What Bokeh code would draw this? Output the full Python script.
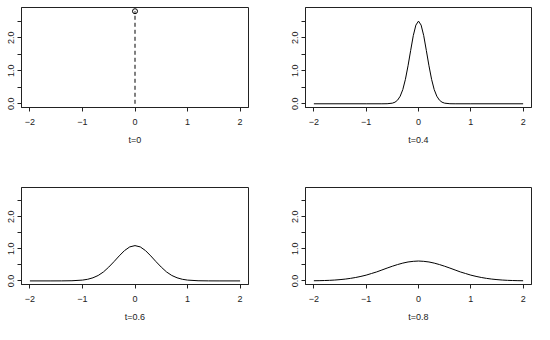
from bokeh.plotting import figure
from bokeh.layouts import column, row
from bokeh.models import Range1d, FixedTicker
from bokeh.embed import file_html
from bokeh.resources import INLINE

# ---- data ----
x_ticks = [-2, -1, 0, 1, 2]
y_ticks = [0.0, 0.5, 1.0, 1.5, 2.0, 2.5]
y_tick_labels = {0.0: "0.0", 0.5: "", 1.0: "1.0", 1.5: "", 2.0: "2.0", 2.5: ""}

# t = 0 : spike at x = 0
spike_x = [0.0]
spike_top = [2.8]

# t = 0.4
x_04 = [-2.0, -1.0, -0.7, -0.6, -0.5, -0.45, -0.4, -0.35, -0.3, -0.25, -0.2, -0.15, -0.1, -0.05,
        0.0, 0.05, 0.1, 0.15, 0.2, 0.25, 0.3, 0.35, 0.4, 0.45, 0.5, 0.6, 0.7, 1.0, 2.0]
y_04 = [0.0, 0.0, 0.0, 0.002, 0.019, 0.048, 0.11, 0.23, 0.43, 0.74, 1.15, 1.61, 2.06, 2.38,
        2.5, 2.38, 2.06, 1.61, 1.15, 0.74, 0.43, 0.23, 0.11, 0.048, 0.019, 0.002, 0.0, 0.0, 0.0]

# t = 0.6
x_06 = [-2.0, -1.6, -1.4, -1.2, -1.0, -0.9, -0.8, -0.7, -0.6, -0.5, -0.4, -0.3, -0.2, -0.1,
        0.0, 0.1, 0.2, 0.3, 0.4, 0.5, 0.6, 0.7, 0.8, 0.9, 1.0, 1.2, 1.4, 1.6, 2.0]
y_06 = [0.0, 0.0, 0.001, 0.005, 0.025, 0.051, 0.097, 0.17, 0.28, 0.43, 0.60, 0.78, 0.945, 1.06,
        1.1, 1.06, 0.945, 0.78, 0.60, 0.43, 0.28, 0.17, 0.097, 0.051, 0.025, 0.005, 0.001, 0.0, 0.0]

# t = 0.8
x_08 = [-2.0, -1.9, -1.8, -1.7, -1.6, -1.5, -1.4, -1.3, -1.2, -1.1, -1.0, -0.9, -0.8, -0.7,
        -0.6, -0.5, -0.4, -0.3, -0.2, -0.1, 0.0, 0.1, 0.2, 0.3, 0.4, 0.5, 0.6, 0.7, 0.8, 0.9,
        1.0, 1.1, 1.2, 1.3, 1.4, 1.5, 1.6, 1.7, 1.8, 1.9, 2.0]
y_08 = [0.005, 0.0076, 0.012, 0.018, 0.027, 0.040, 0.057, 0.079, 0.107, 0.141, 0.18, 0.23,
        0.28, 0.34, 0.40, 0.457, 0.51, 0.555, 0.59, 0.61, 0.62, 0.61, 0.59, 0.555, 0.51, 0.457,
        0.40, 0.34, 0.28, 0.23, 0.18, 0.141, 0.107, 0.079, 0.057, 0.040, 0.027, 0.018, 0.012,
        0.0076, 0.005]

titles = ["t=0", "t=0.4", "t=0.6", "t=0.8"]

FONT = "Liberation Sans"
FS = "9px"
INK = "#222222"


def make_panel(title, left, right, top, bottom, width, height):
    p = figure(width=width, height=height, output_backend="svg", toolbar_location=None,
               x_range=Range1d(-2.16, 2.16), y_range=Range1d(-0.112, 2.912),
               min_border_left=left, min_border_right=right,
               min_border_top=top, min_border_bottom=bottom,
               x_axis_label=title)
    p.grid.visible = False
    p.outline_line_color = INK
    p.outline_line_width = 1
    p.background_fill_color = "white"
    p.border_fill_color = "white"

    xa = p.xaxis[0]
    xa.ticker = FixedTicker(ticks=x_ticks)
    xa.minor_tick_line_color = None
    xa.major_tick_in = 0
    xa.major_tick_out = 4
    xa.major_tick_line_color = INK
    xa.axis_line_color = INK
    xa.major_label_standoff = 7
    xa.major_label_text_font = FONT
    xa.major_label_text_font_size = FS
    xa.major_label_text_color = INK
    xa.axis_label_text_font = FONT
    xa.axis_label_text_font_size = FS
    xa.axis_label_text_font_style = "normal"
    xa.axis_label_text_color = INK
    xa.axis_label_standoff = 7
    xa.major_label_overrides = {-2: "\u22122", -1: "\u22121", 0: "0", 1: "1", 2: "2"}

    ya = p.yaxis[0]
    ya.ticker = FixedTicker(ticks=y_ticks)
    ya.major_label_overrides = y_tick_labels
    ya.minor_tick_line_color = None
    ya.major_tick_in = 0
    ya.major_tick_out = 4
    ya.major_tick_line_color = INK
    ya.axis_line_color = INK
    ya.major_label_standoff = 3
    ya.major_label_orientation = "vertical"
    ya.major_label_text_font = FONT
    ya.major_label_text_font_size = FS
    ya.major_label_text_color = INK
    return p


p1 = make_panel(titles[0], 21, 22, 7, 55, 270, 162)
p1.segment(x0=spike_x, y0=[0.0], x1=spike_x, y1=spike_top, line_color="black",
           line_width=1, line_dash="4 3")
p1.scatter(x=spike_x, y=spike_top, marker="circle", size=5, fill_color=None,
           line_color="black", line_width=1)

p2 = make_panel(titles[1], 35, 3, 7, 55, 264, 162)
p2.line(x=x_04, y=y_04, line_color="black", line_width=1)

p3 = make_panel(titles[2], 21, 22, 25, 37, 270, 162)
p3.line(x=x_06, y=y_06, line_color="black", line_width=1)

p4 = make_panel(titles[3], 35, 3, 25, 37, 264, 162)
p4.line(x=x_08, y=y_08, line_color="black", line_width=1)

layout = column(row(p1, p2, spacing=0), row(p3, p4, spacing=0), spacing=0)

open("out.html", "w").write(file_html(layout, INLINE))
